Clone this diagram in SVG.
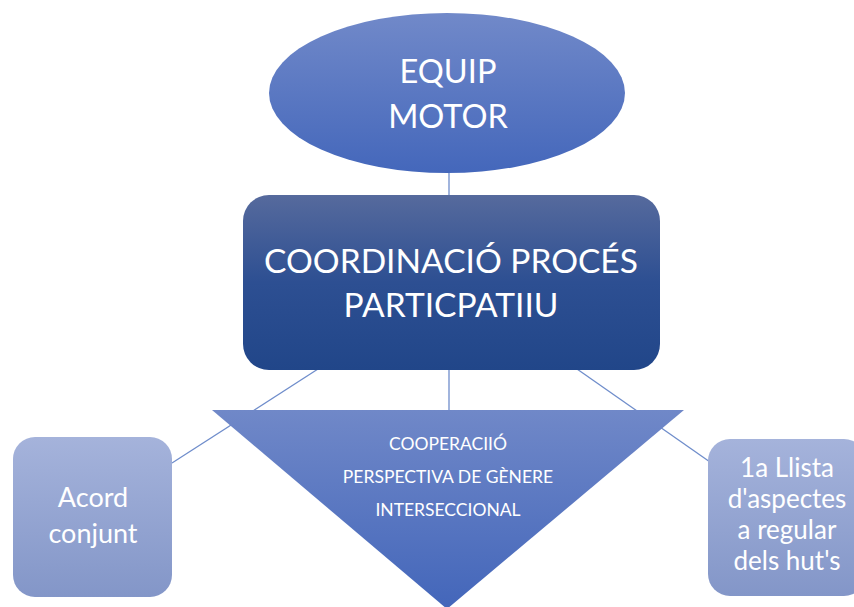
<svg xmlns="http://www.w3.org/2000/svg" width="854" height="607" viewBox="0 0 854 607">
<defs>
<linearGradient id="gEll" x1="0" y1="0" x2="0" y2="1"><stop offset="0" stop-color="#7189c9"/><stop offset="1" stop-color="#4467bb"/></linearGradient>
<linearGradient id="gRect" x1="0" y1="0" x2="0" y2="1"><stop offset="0" stop-color="#566a9d"/><stop offset="0.5" stop-color="#2d4f92"/><stop offset="1" stop-color="#214689"/></linearGradient>
<linearGradient id="gTri" x1="0" y1="0" x2="0" y2="1"><stop offset="0" stop-color="#7088c8"/><stop offset="1" stop-color="#4366ba"/></linearGradient>
<linearGradient id="gBox" x1="0" y1="0" x2="0" y2="1"><stop offset="0" stop-color="#a5b3db"/><stop offset="1" stop-color="#8396c8"/></linearGradient>
<style>
.t{font-family:Lato,"Open Sans","Liberation Sans",sans-serif;font-weight:400;fill:#ffffff;text-anchor:middle}
.c{stroke:#6f8dcb;stroke-width:1.3;fill:none}
</style>
</defs>
<g id="connectors">
<line class="c" x1="449" y1="170" x2="449" y2="197"/>
<line class="c" x1="449" y1="368" x2="449" y2="412"/>
<line class="c" x1="318" y1="369" x2="172" y2="463"/>
<line class="c" x1="577" y1="369" x2="710" y2="462"/>
</g>
<g id="equip-motor">
<ellipse cx="447" cy="93" rx="178" ry="80" fill="url(#gEll)"/>
<text class="t" x="448" y="83" font-size="32.5">EQUIP</text>
<text class="t" x="448" y="128" font-size="32.5">MOTOR</text>
</g>
<g id="coordinacio">
<rect x="243" y="195" width="417" height="175" rx="26" fill="url(#gRect)"/>
<text class="t" x="451" y="273" font-size="33.5">COORDINACIÓ PROCÉS</text>
<text class="t" x="451" y="317" font-size="33.5">PARTICPATIIU</text>
</g>
<g id="cooperacio">
<polygon points="212,410 684,410 447,609" fill="url(#gTri)"/>
<text class="t" x="448" y="450" font-size="17.5">COOPERACIIÓ</text>
<text class="t" x="448" y="483" font-size="17.5">PERSPECTIVA DE GÈNERE</text>
<text class="t" x="448" y="516" font-size="17.5">INTERSECCIONAL</text>
</g>
<g id="acord">
<rect x="13" y="437" width="159" height="160" rx="22" fill="url(#gBox)"/>
<text class="t" x="93" y="507" font-size="27">Acord</text>
<text class="t" x="93" y="543" font-size="27">conjunt</text>
</g>
<g id="llista">
<rect x="708" y="439" width="158" height="157" rx="22" fill="url(#gBox)"/>
<text class="t" x="787" y="477" font-size="26">1a Llista</text>
<text class="t" x="787" y="508" font-size="26">d'aspectes</text>
<text class="t" x="787" y="539" font-size="26">a regular</text>
<text class="t" x="787" y="570" font-size="26">dels hut's</text>
</g>
</svg>
